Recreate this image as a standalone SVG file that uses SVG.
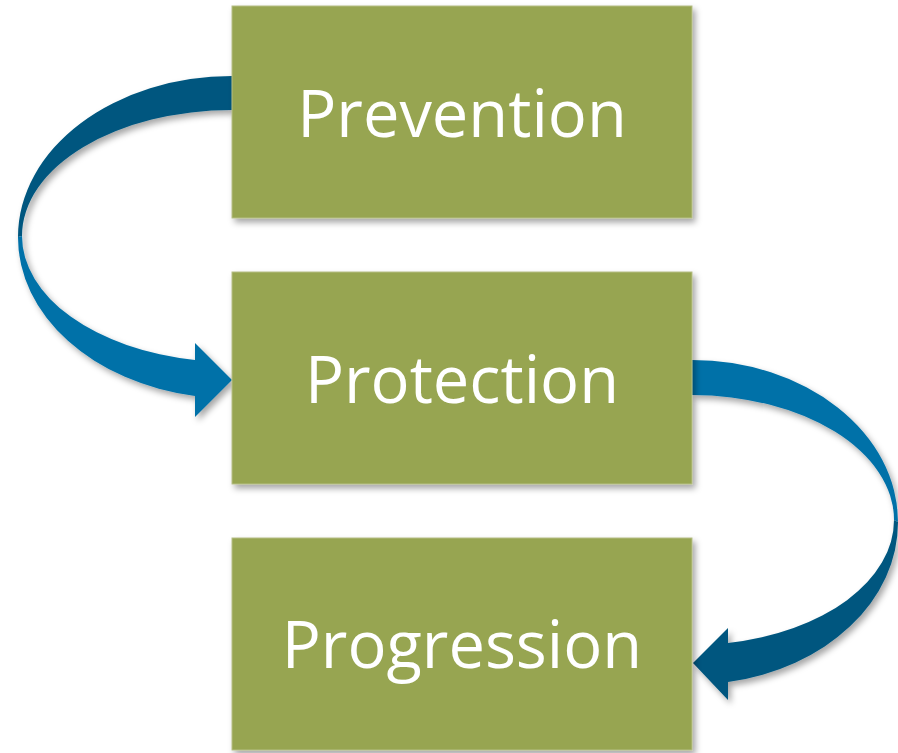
<svg xmlns="http://www.w3.org/2000/svg" width="898" height="753" viewBox="0 0 898 753">
<style>
.box{fill:#97A551;stroke:#B5BE86;stroke-width:1;filter:url(#sh);}
.lbl{font-family:"Open Sans","Liberation Sans",sans-serif;font-size:65px;fill:#FFFFFF;text-anchor:middle;}
.dark{fill:#03577F;}
.light{fill:#0571A8;}
</style>
<defs>
<filter id="sh" x="-10%" y="-10%" width="130%" height="130%">
<feDropShadow dx="3" dy="4" stdDeviation="3" flood-color="#000" flood-opacity="0.35"/>
</filter>
</defs>
<rect width="898" height="753" fill="#FFFFFF"/>
<g id="connectors" filter="url(#sh)">
<g id="arrow1">
<path class="dark" d="M232,76 A214,161 0 0 0 18,237 L22,236 A210,126 0 0 1 232,110 Z"/>
<path class="light" d="M18,237 A214,161 0 0 0 195,396 L195,417 L232,380 L195,343 L195,360 A210,126 0 0 1 22,236 Z"/>
</g>
<g id="arrow2">
<path class="light" d="M692,360 A206,162 0 0 1 898,522 L894,520 A202,125 0 0 0 692,395 Z"/>
<path class="dark" d="M898,522 A206,162 0 0 1 728,682 L728,700 L693,663 L728,628 L728,643 A202,125 0 0 0 894,520 Z"/>
</g>
</g>
<g id="prevention">
<rect class="box" x="232" y="6" width="460" height="212"/>
<text class="lbl" x="462" y="137">Prevention</text>
</g>
<g id="protection">
<rect class="box" x="232" y="272" width="460" height="212"/>
<text class="lbl" x="462" y="403">Protection</text>
</g>
<g id="progression">
<rect class="box" x="232" y="538" width="460" height="212"/>
<text class="lbl" x="462" y="668">Progression</text>
</g>
</svg>
